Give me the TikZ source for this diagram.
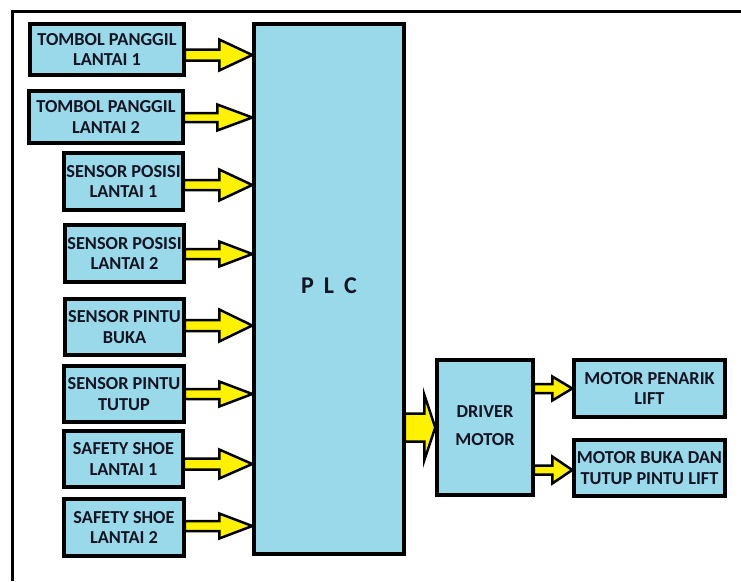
\documentclass[tikz,border=0pt]{standalone}
\usepackage{fontspec}
\setmainfont{Carlito}
\usetikzlibrary{calc}
\definecolor{boxblue}{RGB}{153,217,234}
\definecolor{arrowyellow}{RGB}{255,242,0}
\definecolor{txt}{RGB}{20,20,35}
\tikzset{
  box/.style={draw=black, line width=3.5pt, fill=boxblue, align=center,
    font=\fontsize{18.3}{20.5}\selectfont\bfseries, text=txt, inner sep=0pt},
  yarrow/.style={draw=black, line width=2.5pt, fill=arrowyellow, line join=miter},
  frameline/.style={line width=3pt}
}
% #1 from, #2 to, #3 y, #4 shaft half, #5 head half, #6 head length
\newcommand\blockarr[6]{%
  \draw[yarrow] ($(#1.east|-0,#3)+(-1,#4)$) -- ($(#2.west|-0,#3)+(-#6,#4)$)
    -- ($(#2.west|-0,#3)+(-#6,#5)$) -- (#2.west|-0,#3)
    -- ($(#2.west|-0,#3)+(-#6,-#5)$) -- ($(#2.west|-0,#3)+(-#6,-#4)$)
    -- ($(#1.east|-0,#3)+(-1,-#4)$) -- cycle;}
\begin{document}
\begin{tikzpicture}[x=1pt,y=1pt]
\useasboundingbox (0,0) rectangle (741,-581);
\draw[frameline] (12,-581) -- (12,-11) -- (741,-11);

\node[box, minimum width=154, minimum height=51] (t1) at (107,-49.5) {TOMBOL PANGGIL\\LANTAI 1};
\node[box, minimum width=154, minimum height=52] (t2) at (106,-117) {TOMBOL PANGGIL\\LANTAI 2};
\node[box, minimum width=119, minimum height=57] (sp1) at (123.5,-181.5) {SENSOR POSISI\\LANTAI 1};
\node[box, minimum width=119, minimum height=57] (sp2) at (124.5,-253.5) {SENSOR POSISI\\LANTAI 2};
\node[box, minimum width=119, minimum height=56] (spb) at (124.5,-327) {SENSOR PINTU\\BUKA};
\node[box, minimum width=120, minimum height=56] (spt) at (124,-394) {SENSOR PINTU\\TUTUP};
\node[box, minimum width=119, minimum height=56] (ss1) at (123.5,-459) {SAFETY SHOE\\LANTAI 1};
\node[box, minimum width=120, minimum height=57] (ss2) at (124,-527.5) {SAFETY SHOE\\LANTAI 2};

\node[box, minimum width=150, minimum height=530, font=\fontsize{24}{26}\selectfont\bfseries] (plc) at (329,-289) {\raisebox{6pt}{P\hspace{0.42em}L\hspace{0.42em}C}};

\node[box, minimum width=96, minimum height=135] (drv) at (485,-427.5) {\raisebox{6pt}{\begin{tabular}{@{}c@{}}DRIVER\\[8pt]MOTOR\end{tabular}}};
\node[box, minimum width=151, minimum height=57] (mp) at (649.5,-388.5) {MOTOR PENARIK\\LIFT};
\node[box, minimum width=151, minimum height=56] (mb) at (649.5,-468) {MOTOR BUKA DAN\\TUTUP PINTU LIFT};

\blockarr{t1}{plc}{-55}{5.5}{15.5}{33}
\blockarr{t2}{plc}{-117.5}{4.5}{13}{35}
\blockarr{sp1}{plc}{-185}{5}{15.5}{33}
\blockarr{sp2}{plc}{-254}{5}{12.5}{33}
\blockarr{spb}{plc}{-325.5}{5.5}{16}{33}
\blockarr{spt}{plc}{-394}{5}{12.5}{33}
\blockarr{ss1}{plc}{-464}{5.5}{14.5}{33}
\blockarr{ss2}{plc}{-526}{5}{12.5}{33}
\blockarr{plc}{drv}{-427.5}{14}{33}{11}
\blockarr{drv}{mp}{-388.5}{4.5}{12}{20}
\blockarr{drv}{mb}{-470}{4.5}{13.5}{20}
\end{tikzpicture}
\end{document}
